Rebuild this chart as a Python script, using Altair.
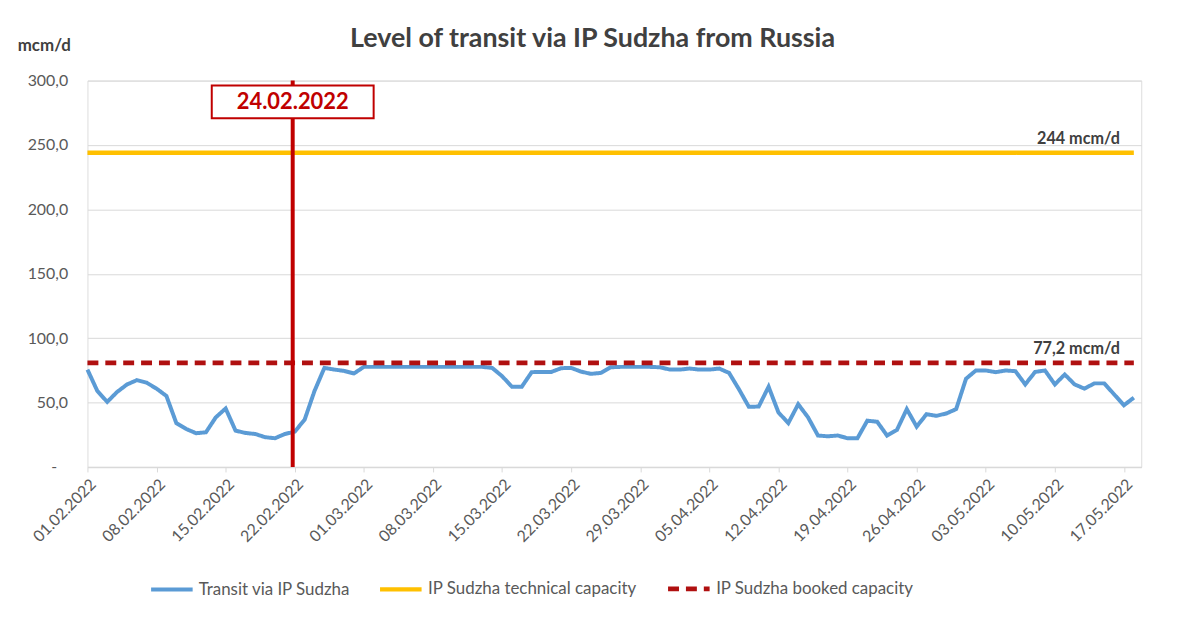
import altair as alt
import pandas as pd

# ---------------- data ----------------
start_date = "2022-02-01"
transit = [
    75.6, 59.0, 50.5, 58.2, 64.0, 67.4, 65.4, 60.8, 55.1, 34.1,
    29.5, 26.2, 26.9, 38.5, 45.4, 28.2, 26.4, 25.6, 23.1, 22.3,
    25.6, 27.4, 36.7, 59.0, 76.9, 75.6, 74.6, 72.6, 77.7, 77.7,
    77.7, 77.7, 77.7, 77.7, 77.7, 77.7, 77.7, 77.7, 77.7, 77.7,
    77.7, 76.9, 70.5, 62.3, 62.3, 73.6, 73.8, 73.8, 76.7, 76.9,
    74.0, 72.3, 73.0, 77.4, 77.7, 77.7, 77.7, 77.7, 77.4, 75.6,
    75.6, 76.4, 75.6, 75.6, 76.4, 73.0, 60.3, 46.7, 46.9, 62.3,
    42.3, 34.1, 48.7, 38.5, 24.4, 23.8, 24.4, 22.3, 22.3, 35.9,
    35.1, 24.4, 28.7, 44.9, 31.3, 41.0, 39.7, 41.5, 44.9, 68.5,
    74.9, 74.9, 73.6, 74.9, 74.4, 64.1, 73.8, 74.9, 64.1, 71.8,
    64.1, 60.8, 64.9, 64.9, 56.4, 47.9, 53.8,
]
tech_capacity = 244.0
booked_capacity = 80.8
tech_label = "244 mcm/d"
booked_label = "77,2 mcm/d"
event_date = "2022-02-21T19:00:00"
event_label = "24.02.2022"
event_box_value = 283.5
series_names = [
    "Transit via IP Sudzha",
    "IP Sudzha technical capacity",
    "IP Sudzha booked capacity",
]
series_colors = ["#5B9BD5", "#FFC000", "#B01010"]
y_ticks = [0, 50, 100, 150, 200, 250, 300]
title_text = "Level of transit via IP Sudzha from Russia"
unit_text = "mcm/d"

# ---------------- tables ----------------
dates = pd.date_range(start_date, periods=len(transit), freq="D")
date_str = [d.strftime("%Y-%m-%dT00:00:00") for d in dates]

rows = []
for d, v in zip(date_str, transit):
    rows.append({"date": d, "value": v, "series": series_names[0]})
for d in date_str:
    rows.append({"date": d, "value": tech_capacity, "series": series_names[1]})
    rows.append({"date": d, "value": booked_capacity, "series": series_names[2]})
df = pd.DataFrame(rows)

tick_dates = pd.date_range(start_date, dates[-1], freq="7D")
tick_values = [alt.DateTime(year=t.year, month=t.month, date=t.day) for t in tick_dates]

event_df = pd.DataFrame({
    "date": [event_date], "top": [300], "bottom": [0],
    "box": [event_box_value], "label": [event_label],
})
caps_df = pd.DataFrame({
    "date": [date_str[-1], date_str[-1]],
    "value": [tech_capacity, booked_capacity],
    "label": [tech_label, booked_label],
})

FONT = "Lato"
GREY = "#595959"

x_enc = alt.X(
    "date:T",
    scale=alt.Scale(domain=[alt.DateTime(year=2022, month=2, date=1),
                            alt.DateTime(year=2022, month=5, date=18, hours=18)]),
    axis=alt.Axis(
        values=tick_values, format="%d.%m.%Y", labelAngle=-45, title=None,
        labelFont=FONT, labelFontSize=16, labelColor=GREY, labelPadding=4,
        domainColor="#D9D9D9", domainWidth=1.5, tickColor="#D9D9D9",
        tickSize=5, grid=False, labelOverlap=False,
    ),
)
y_enc = alt.Y(
    "value:Q",
    scale=alt.Scale(domain=[0, 300]),
    axis=alt.Axis(
        values=y_ticks,
        labelExpr="datum.value == 0 ? '-' : replace(format(datum.value, '.1f'), '.', ',')",
        labelFont=FONT, labelFontSize=16, labelColor=GREY,
        labelPadding={"condition": {"test": "datum.value == 0", "value": 31}, "value": 20},
        domain=False, ticks=False, grid=True, gridColor="#D9D9D9", gridWidth=1,
        title=unit_text, titleAngle=0, titleX=-44, titleY=-35,
        titleAlign="center", titleBaseline="middle", titleFont=FONT,
        titleFontSize=17, titleFontWeight="bold", titleColor="#404040",
    ),
)

legend_kw = dict(
    title=None, orient="none", legendX=62, legendY=488, direction="horizontal",
    symbolType="stroke", symbolSize=1750, symbolStrokeWidth=4,
    labelFont=FONT, labelFontSize=17, labelColor=GREY, labelOffset=4,
    columnPadding=20, labelLimit=400,
)

lines = alt.Chart(df).mark_line().encode(
    x=x_enc,
    y=y_enc,
    color=alt.Color("series:N", sort=series_names,
                    scale=alt.Scale(domain=series_names, range=series_colors),
                    legend=alt.Legend(**legend_kw)),
    strokeDash=alt.StrokeDash("series:N", sort=series_names,
                              scale=alt.Scale(domain=series_names,
                                              range=[[1, 0], [1, 0], [11, 7]]),
                              legend=alt.Legend(**legend_kw)),
    strokeWidth=alt.StrokeWidth("series:N",
                                scale=alt.Scale(domain=series_names, range=[4, 5, 3.2]),
                                legend=None),
    detail="series:N",
)

rule = alt.Chart(event_df).mark_rule(color="#C00000", strokeWidth=4).encode(
    x="date:T", y="top:Q", y2="bottom:Q"
)

box_w, box_h = 163, 33
r = box_h / box_w
box_path = f"M-1,-{r:.4f} L1,-{r:.4f} L1,{r:.4f} L-1,{r:.4f} Z"
box = alt.Chart(event_df).mark_point(
    shape=box_path, size=box_w * box_w, filled=True, fill="white",
    stroke="#C00000", strokeWidth=2, opacity=1,
).encode(x="date:T", y="box:Q")

box_text = alt.Chart(event_df).mark_text(
    font=FONT, fontSize=22, fontWeight="bold", color="#C00000",
    baseline="middle", align="center",
).encode(x="date:T", y="box:Q", text="label:N")

cap_text = alt.Chart(caps_df).mark_text(
    font=FONT, fontSize=16.3, fontWeight="bold", color="#404040",
    align="right", baseline="middle", dx=-14, dy=-13.5,
).encode(x="date:T", y="value:Q", text="label:N")

chart = alt.layer(lines, rule, box, box_text, cap_text).properties(
    width=1061,
    height=389,
    padding={"left": 80, "top": 71, "right": 35, "bottom": 151},
    autosize=alt.AutoSizeParams(type="none"),
    title=alt.TitleParams(
        title_text, font=FONT, fontSize=27, fontWeight="bold", color="#404040",
        anchor="middle", frame="group", dx=-22, offset=-37, baseline="alphabetic",
    ),
).configure_view(stroke=None).configure(background="white")

chart.save("out.html", embed_options={"renderer": "svg", "actions": False})
